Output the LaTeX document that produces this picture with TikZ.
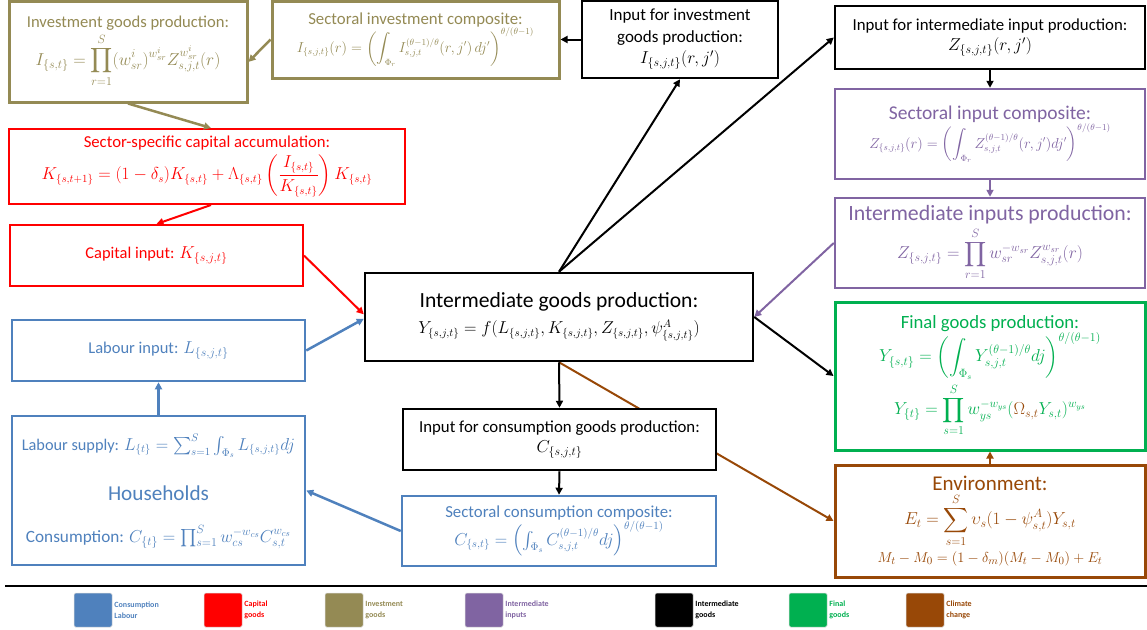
\documentclass[tikz,border=0pt]{standalone}
\usepackage[no-math]{fontspec}
\setmainfont{Carlito}
\usepackage{amsmath}
\usetikzlibrary{arrows.meta,calc}
\pgfdeclarelayer{bg}
\pgfsetlayers{bg,main}
\definecolor{cblue}{HTML}{4F81BD}
\definecolor{cred}{HTML}{FF0000}
\definecolor{colive}{HTML}{948A54}
\definecolor{cpurple}{HTML}{8064A2}
\definecolor{cgreen}{HTML}{00B050}
\definecolor{cbrown}{HTML}{984807}
\newcommand{\fz}[2]{\fontsize{#1}{#2}\selectfont}
\tikzset{
  box/.style={draw, line width=2.5pt, fill=white, align=center, inner sep=0pt},
  arr/.style={-{Triangle[length=7pt,width=7pt]}, line width=2pt},
  leg/.style={draw=black!15, line width=0.5pt, rounded corners=1.5pt, minimum width=38pt, minimum height=34pt, inner sep=0pt},
  legt/.style={anchor=west, align=left, font=\fz{8}{11}\bfseries, inner sep=2pt},
}
\begin{document}
\begin{tikzpicture}[x=1pt,y=-1pt]
\useasboundingbox (0,0) rectangle (1147,629);
% top-left olive
\node[box, draw=colive, line width=3pt, text=colive, minimum width=238pt, minimum height=101pt, font=\fz{16.6}{19}] (invp) at (128,51.5)
 {Investment goods production:\\[2pt] \fz{17.5}{19}$\displaystyle I_{\{s,t\}} = \prod_{r=1}^{S} (w_{sr}^{i})^{w_{sr}^{i}} Z_{s,j,t}^{w_{sr}^{i}}(r)$};
\node[box, draw=colive, line width=3pt, text=colive, minimum width=287pt, minimum height=77pt, font=\fz{16.8}{19}] (sic) at (415.5,39.5)
 {Sectoral investment composite:\\[0pt] \fz{13.5}{15}$\displaystyle I_{\{s,j,t\}}(r) = \left(\int_{\Phi_r} I_{s,j,t}^{(\theta-1)/\theta}(r,j')\,dj'\right)^{\theta/(\theta-1)}$};
\node[box, minimum width=196pt, minimum height=77pt, font=\fz{17}{21.5}] (iip) at (680,39.5)
 {Input for investment\\goods production:\\ $I_{\{s,j,t\}}(r,j')$};
% right column
\node[box, minimum width=310pt, minimum height=63pt, font=\fz{16.8}{20}] (iiip) at (990,37.5)
 {Input for intermediate input production:\\ \fz{18}{20}$Z_{\{s,j,t\}}(r,j')$};
\node[box, draw=cpurple, text=cpurple, minimum width=310pt, minimum height=90pt, font=\fz{19.5}{23}] (sinc) at (990,134)
 {Sectoral input composite:\\[0pt] \fz{13.5}{15}$\displaystyle Z_{\{s,j,t\}}(r) = \left(\int_{\Phi_r} Z_{s,j,t}^{(\theta-1)/\theta}(r,j')dj'\right)^{\theta/(\theta-1)}$};
\node[box, draw=cpurple, text=cpurple, minimum width=310pt, minimum height=90pt, font=\fz{21.8}{24}] (iinp) at (990,243)
 {Intermediate inputs production:\\[2pt] \fz{18}{20}$\displaystyle Z_{\{s,j,t\}} = \prod_{r=1}^{S} w_{sr}^{-w_{sr}} Z_{s,j,t}^{w_{sr}}(r)$};
\node[box, draw=cgreen, line width=3pt, text=cgreen, minimum width=310pt, minimum height=148pt, font=\fz{18.7}{22}] (fgp) at (990,376)
 {Final goods production:\\[0pt] \fz{16.8}{18}$\displaystyle Y_{\{s,t\}} = \left(\int_{\Phi_s} Y_{s,j,t}^{(\theta-1)/\theta} dj\right)^{\theta/(\theta-1)}$\\[3pt]
  \fz{17}{18}$\displaystyle Y_{\{t\}} = \prod_{s=1}^{S} w_{ys}^{-w_{ys}} ({\color{cbrown}\Omega_{s,t}}Y_{s,t})^{w_{ys}}$};
\node[box, draw=cbrown, line width=3pt, text=cbrown, minimum width=310pt, minimum height=112pt, font=\fz{21}{23}] (env) at (990,521)
 {Environment:\\[2pt] \fz{18}{19}$\displaystyle E_t = \sum_{s=1}^{S} \upsilon_s(1-\psi^{A}_{s,t})Y_{s,t}$\\[4pt]
  \fz{15.4}{16}$M_t - M_0 = (1-\delta_m)(M_t - M_0) + E_t$};
% left column
\node[box, draw=cred, line width=2pt, text=cred, minimum width=396pt, minimum height=75pt, font=\fz{16.7}{20}] (cap) at (207,166.5)
 {Sector-specific capital accumulation:\\[3pt] \fz{16.2}{18}$\displaystyle K_{\{s,t+1\}} = (1-\delta_s)K_{\{s,t\}} + \Lambda_{\{s,t\}}\left(\frac{I_{\{s,t\}}}{K_{\{s,t\}}}\right)K_{\{s,t\}}$};
\node[box, draw=cred, line width=2pt, text=cred, minimum width=293pt, minimum height=61pt, font=\fz{16.4}{19}] (capin) at (156.5,255.5)
 {Capital input: $K_{\{s,j,t\}}$};
\node[box, draw=cblue, text=cblue, minimum width=293pt, minimum height=61pt, font=\fz{16.5}{19}] (labin) at (158.5,350.5)
 {Labour input: $L_{\{s,j,t\}}$};
\node[box, draw=cblue, text=cblue, minimum width=293pt, minimum height=149pt] (hh) at (158.5,490.5) {};
\node[text=cblue, inner sep=0pt, font=\fz{16.3}{18}] (hhls) at (158.5,446) {Labour supply: $L_{\{t\}} = \sum_{s=1}^{S}\int_{\Phi_s} L_{\{s,j,t\}}dj$};
\node[text=cblue, inner sep=0pt, font=\fz{21.2}{24}] (hht) at (158.5,493) {Households};
\node[text=cblue, inner sep=0pt, font=\fz{17.2}{19}] (hhc) at (158.5,537) {Consumption: $C_{\{t\}} = \prod_{s=1}^{S} w_{cs}^{-w_{cs}} C_{s,t}^{w_{cs}}$};
% centre
\node[box, minimum width=388pt, minimum height=88pt, font=\fz{21.6}{25}] (igp) at (559,317)
 {Intermediate goods production:\\[1pt] \fz{16.3}{19}$Y_{\{s,j,t\}} = f(L_{\{s,j,t\}},K_{\{s,j,t\}},Z_{\{s,j,t\}},\psi^{A}_{\{s,j,t\}})$};
\node[box, minimum width=313pt, minimum height=61pt, font=\fz{16.8}{20}] (icgp) at (559.5,439.5)
 {Input for consumption goods production:\\ \fz{17}{20}$C_{\{s,j,t\}}$};
\node[box, draw=cblue, text=cblue, minimum width=314pt, minimum height=70pt, font=\fz{16.8}{20}] (scc) at (559,531)
 {Sectoral consumption composite:\\[0pt] \fz{16.3}{18}$C_{\{s,t\}} = \left(\int_{\Phi_s} C_{s,j,t}^{(\theta-1)/\theta} dj\right)^{\theta/(\theta-1)}$};
% connectors
\begin{pgfonlayer}{bg}
\draw[arr, cbrown] (igp.south) -- (env.west);
\end{pgfonlayer}
\draw[arr, colive, line width=2.5pt] (sic.west) -- ($(invp.north east)!0.6!(invp.south east)$);
\draw[arr] (iip.west) -- (sic.east);
\draw[arr] (igp.north) -- (iip.south);
\draw[arr] (igp.north) -- (iiip.west);
\draw[arr] (iiip.south) -- (sinc.north);
\draw[arr, cpurple] (sinc.south) -- (iinp.north);
\draw[arr, cpurple] (iinp.west) -- (igp.east);
\draw[arr] (igp.east) -- (fgp.west);
\draw[arr, cbrown] (env.north) -- (fgp.south);
\draw[arr] (igp.south) -- (icgp.north);
\draw[arr] (icgp.south) -- (scc.north);
\draw[arr, cblue, line width=2.5pt] (scc.west) -- (hh.east);
\draw[arr, cblue, line width=2.5pt] (hh.north) -- (labin.south);
\draw[arr, cblue, line width=2.5pt] (labin.east) -- ($(igp.north west)!0.52!(igp.south west)$);
\draw[arr, cred] (capin.east) -- ($(igp.north west)!0.47!(igp.south west)$);
\draw[arr, cred] ($(cap.south west)!0.51!(cap.south east)$) -- (capin.north);
\draw[arr, colive, line width=2.5pt] (invp.south) -- ($(cap.north west)!0.51!(cap.north east)$);
% separator and legend
\coordinate (sepL) at (5,586);
\coordinate (sepR) at (1147,586);
\draw[line width=2pt] (sepL) -- (sepR);
\node[leg, fill=cblue] (lg1) at (93,610) {};
\node[legt, text=cblue] (lt1) at (lg1.east) {Consumption\\Labour};
\node[leg, fill=cred] (lg2) at (223,610) {};
\node[legt, text=cred] (lt2) at (lg2.east) {Capital\\goods};
\node[leg, fill=colive] (lg3) at (344,610) {};
\node[legt, text=colive] (lt3) at (lg3.east) {Investment\\goods};
\node[leg, fill=cpurple] (lg4) at (484,610) {};
\node[legt, text=cpurple] (lt4) at (lg4.east) {Intermediate\\inputs};
\node[leg, fill=black] (lg5) at (674,610) {};
\node[legt, text=black] (lt5) at (lg5.east) {Intermediate\\goods};
\node[leg, fill=cgreen] (lg6) at (808,610) {};
\node[legt, text=cgreen] (lt6) at (lg6.east) {Final\\goods};
\node[leg, fill=cbrown] (lg7) at (925,610) {};
\node[legt, text=cbrown] (lt7) at (lg7.east) {Climate\\change};
\end{tikzpicture}
\end{document}
